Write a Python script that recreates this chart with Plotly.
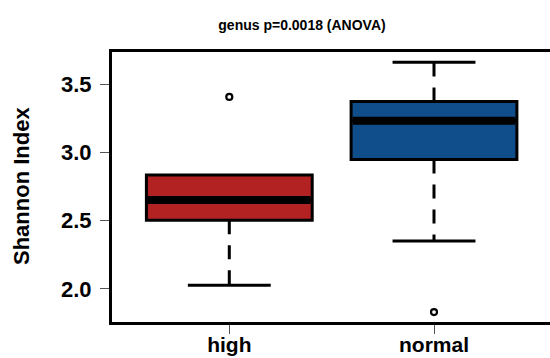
import plotly.graph_objects as go

# ---- data ----
groups = ["high", "normal"]
positions = [1, 2]
q1 = [2.503, 2.949]
median = [2.652, 3.234]
q3 = [2.836, 3.374]
lower_whisker = [2.027, 2.351]
upper_whisker = [2.836, 3.662]
outliers = [[3.408], [1.831]]
colors = ["#B22222", "#104E8B"]
yticks = [2.0, 2.5, 3.0, 3.5]
title_text = "genus p=0.0018 (ANOVA)"
ytitle = "Shannon Index"

W, H = 550, 358
L, T, B, R = 112, 52.2, 36.2, 0
box_w = 0.81
cap_w = box_w / 2
px_per_unit = 204.7
x_lo = 1 - (229.3 - L) / px_per_unit
x_hi = 2 + (W - R - 434) / px_per_unit
y_lo, y_hi = 1.758, 3.737

FONT = "Liberation Sans, Arial, Helvetica, sans-serif"

fig = go.Figure()

for i, g in enumerate(groups):
    x = positions[i]
    # whiskers (dashed), drawn from box edge outwards
    for a, b in ((q1[i], lower_whisker[i]), (q3[i], upper_whisker[i])):
        if a != b:
            fig.add_trace(go.Scatter(x=[x, x], y=[a, b], mode="lines",
                                     line=dict(color="black", width=3, dash="14px,11px"),
                                     showlegend=False, hoverinfo="skip"))
    # caps
    for v in (lower_whisker[i], upper_whisker[i]):
        if v not in (q1[i], q3[i]):
            fig.add_trace(go.Scatter(x=[x - cap_w / 2, x + cap_w / 2], y=[v, v], mode="lines",
                                     line=dict(color="black", width=3),
                                     showlegend=False, hoverinfo="skip"))
    # box body
    fig.add_trace(go.Box(x=[x], q1=[q1[i]], median=[median[i]], q3=[q3[i]],
                         lowerfence=[q1[i]], upperfence=[q3[i]],
                         width=box_w, whiskerwidth=0, fillcolor=colors[i],
                         line=dict(color="black", width=3), boxpoints=False,
                         name=g, showlegend=False))
    # thick median
    fig.add_trace(go.Scatter(x=[x - box_w / 2 + 0.008, x + box_w / 2 - 0.008],
                             y=[median[i], median[i]], mode="lines",
                             line=dict(color="black", width=8),
                             showlegend=False, hoverinfo="skip"))
    # outliers
    fig.add_trace(go.Scatter(x=[x] * len(outliers[i]), y=outliers[i], mode="markers",
                             marker=dict(symbol="circle-open", size=6, color="black",
                                         line=dict(width=2.2, color="black")),
                             showlegend=False, hoverinfo="skip"))

plot_w = W - L - R
plot_h = H - T - B
fig.update_layout(
    width=W, height=H,
    margin=dict(l=L, r=R, t=T, b=B, pad=0, autoexpand=False),
    paper_bgcolor="white", plot_bgcolor="white",
    font=dict(family=FONT, color="black"),
    title=dict(text=title_text, x=302 / W, xref="container", xanchor="center",
               y=1 - 25 / H, yref="container", yanchor="middle", automargin=False,
               font=dict(size=14, weight="bold", family=FONT, color="black")),
    xaxis=dict(range=[x_lo, x_hi], tickmode="array", tickvals=positions, ticktext=groups,
               showgrid=False, zeroline=False, showline=True, mirror=True, automargin=False,
               linecolor="black", linewidth=3, ticks="outside", ticklen=9,
               tickwidth=1, tickcolor="#555555", ticklabelstandoff=-7,
               tickfont=dict(size=21, weight="bold", family=FONT, color="black")),
    yaxis=dict(range=[y_lo, y_hi], tickmode="array", tickvals=yticks,
               ticktext=[f"{v:.1f}" for v in yticks], automargin=False,
               showgrid=False, zeroline=False, showline=True, mirror=False,
               linecolor="black", linewidth=3, ticks="outside", ticklen=9,
               tickwidth=1, tickcolor="#555555", ticklabelstandoff=4,
               tickfont=dict(size=22, weight="bold", family=FONT, color="black")),
    annotations=[dict(text=ytitle, textangle=-90, xref="paper", yref="paper",
                      x=(22 - L) / plot_w, y=(H - B - 186) / plot_h,
                      xanchor="center", yanchor="middle", showarrow=False,
                      font=dict(size=22, weight="bold", family=FONT, color="black"))],
)

fig.write_html("out.html")
